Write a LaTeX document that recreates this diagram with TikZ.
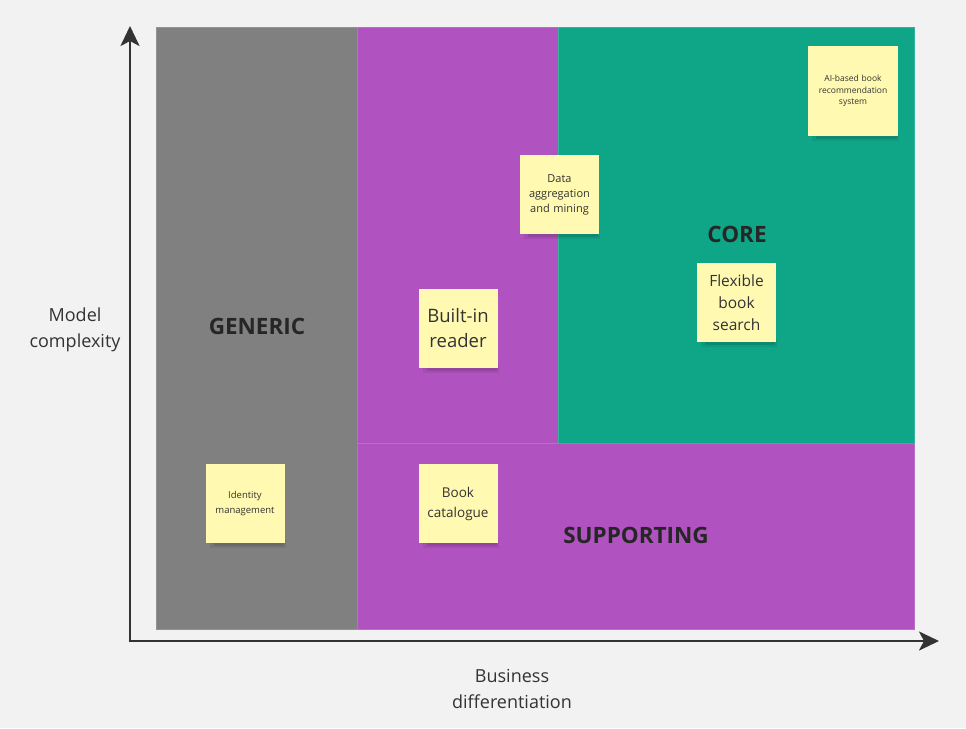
\documentclass[tikz,border=0pt]{standalone}
\usepackage{fontspec}
\setmainfont{Open Sans}
\usetikzlibrary{arrows.meta,calc}
\definecolor{bg}{HTML}{F2F2F2}
\definecolor{generic}{HTML}{808080}
\definecolor{supporting}{HTML}{B052C0}
\definecolor{core}{HTML}{0FA688}
\definecolor{sticky}{HTML}{FFF9B1}
\definecolor{ink}{HTML}{333333}
\tikzset{
  zone/.style={draw=#1!85!white, line width=0.6pt, fill=#1},
  note/.style n args={3}{fill=sticky, minimum width=#1, minimum height=#1,
    text width=#1-4pt, align=center, inner sep=0pt, text=ink,
    font=\fontsize{#2}{#3}\selectfont},
  zonelabel/.style={font=\bfseries\fontsize{22.5}{26}\selectfont, text=black!85},
  axislabel/.style={align=center, text=ink, font=\fontsize{18}{26}\selectfont},
  axis/.style={draw=ink, line width=2.6pt, -{Stealth[length=20pt,width=19pt,inset=5pt]}},
}
% sticky note with a soft drop shadow: name, centre, side, font size, line skip, text
\newcommand{\notecard}[6]{%
  \fill[black, opacity=0.07] ($(#2)+(-#3/2+4,#3/2-4)$) rectangle ($(#2)+(#3/2+1,#3/2+5)$);
  \fill[black, opacity=0.10] ($(#2)+(-#3/2+8,#3/2-2)$) rectangle ($(#2)+(#3/2-1,#3/2+3)$);
  \node[note={#3pt}{#4}{#5}] (#1) at (#2) {#6};
}
\begin{document}
\begin{tikzpicture}[x=1pt,y=-1pt]
  \fill[bg] (0,0) rectangle (966,728);
  \useasboundingbox (0,0) rectangle (966,728);

  % zones
  \path[zone=generic] (156,27) rectangle (357,629);
  \path[zone=supporting] (357,27) rectangle (558,443);
  \path[zone=supporting] (357,443) rectangle (914,629);
  \path[zone=core] (558,27) rectangle (914,443);

  \node[zonelabel] (generic) at (257,326) {GENERIC};
  \node[zonelabel] (core) at (737,234) {CORE};
  \node[zonelabel] (supporting) at (636,535) {SUPPORTING};

  % sticky notes
  \notecard{ai}{853,91}{90}{8.5}{11.5}{AI-based book\\recommendation\\system}
  \notecard{data}{559.5,194.5}{79}{11}{15}{Data\\aggregation\\and mining}
  \notecard{reader}{458,328.5}{79}{18.5}{25}{Built-in\\reader}
  \notecard{search}{736.5,302.5}{79}{15.5}{22}{Flexible\\book\\search}
  \notecard{identity}{245,503.5}{79}{9.5}{15}{Identity\\management}
  \notecard{catalogue}{458,503.5}{79}{13.5}{20}{Book\\catalogue}

  % axes
  \coordinate (origin) at (130,641);
  \coordinate (ytop) at (130,26);
  \coordinate (xend) at (939,641);
  \draw[axis] (130,642.3) -- (ytop);
  \draw[axis] (128.7,641) -- (xend);

  \node[axislabel] (ylabel) at (75,330) {Model\\complexity};
  \node[axislabel] (xlabel) at (512,689) {Business\\differentiation};
\end{tikzpicture}
\end{document}
